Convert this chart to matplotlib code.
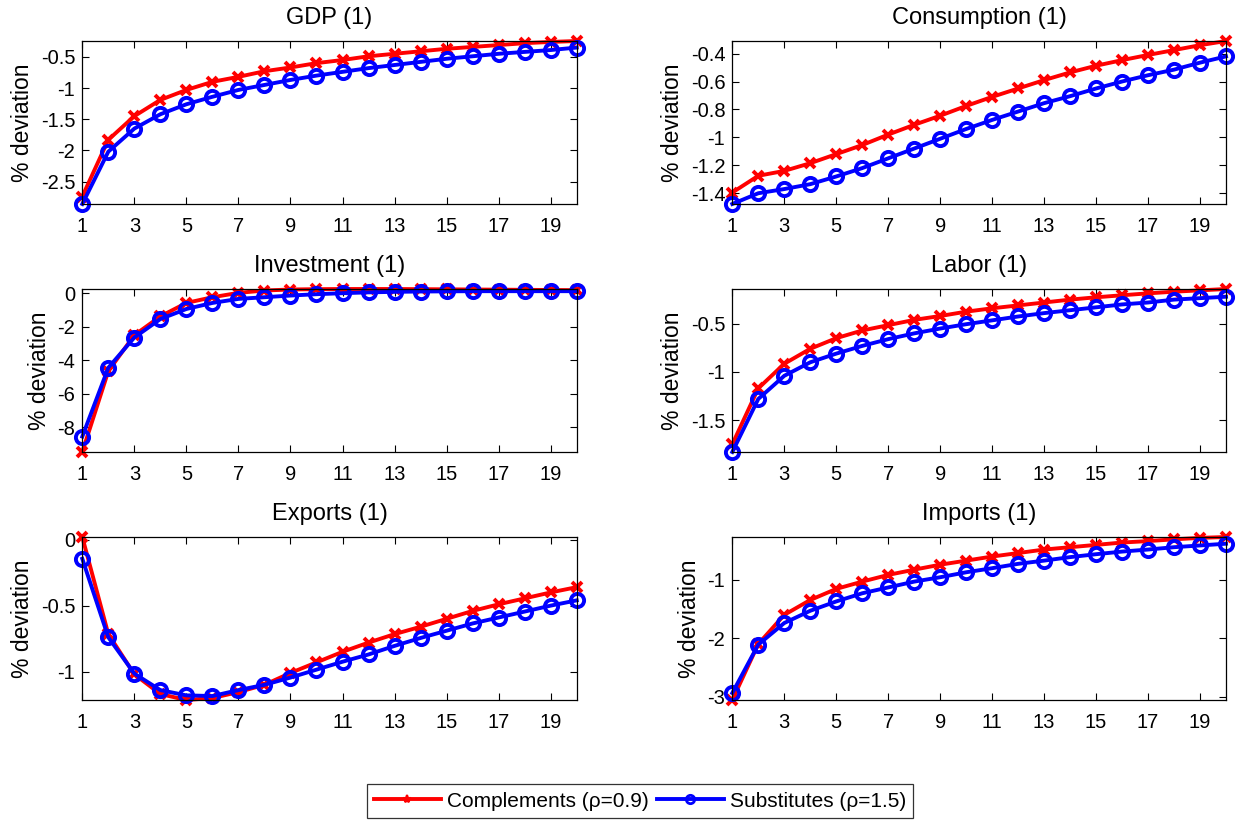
import matplotlib
matplotlib.use("Agg")
import matplotlib.pyplot as plt
import numpy as np
from matplotlib.ticker import FuncFormatter
from matplotlib.lines import Line2D

plt.rcParams['font.family'] = ['Liberation Sans', 'DejaVu Sans']

periods = list(range(1, 21))

titles = ["GDP (1)", "Consumption (1)", "Investment (1)", "Labor (1)", "Exports (1)", "Imports (1)"]

gdp_comp = [-2.74, -1.83, -1.45, -1.19, -1.03, -0.90, -0.82, -0.73, -0.67, -0.60,
            -0.55, -0.49, -0.45, -0.41, -0.37, -0.34, -0.31, -0.28, -0.26, -0.245]
gdp_subs = [-2.86, -2.02, -1.65, -1.42, -1.26, -1.14, -1.03, -0.95, -0.87, -0.80,
            -0.74, -0.68, -0.63, -0.58, -0.53, -0.49, -0.45, -0.42, -0.39, -0.35]

cons_comp = [-1.395, -1.275, -1.24, -1.185, -1.12, -1.055, -0.98, -0.91, -0.845, -0.775,
             -0.71, -0.65, -0.59, -0.535, -0.487, -0.447, -0.41, -0.375, -0.34, -0.31]
cons_subs = [-1.477, -1.40, -1.37, -1.335, -1.28, -1.22, -1.15, -1.08, -1.01, -0.94,
             -0.875, -0.815, -0.755, -0.705, -0.65, -0.60, -0.555, -0.515, -0.465, -0.42]

inv_comp = [-9.46, -4.64, -2.50, -1.38, -0.58, -0.24, 0.02, 0.16, 0.22, 0.24,
            0.25, 0.25, 0.25, 0.24, 0.23, 0.22, 0.21, 0.20, 0.19, 0.18]
inv_subs = [-8.54, -4.44, -2.64, -1.54, -0.94, -0.58, -0.34, -0.24, -0.14, -0.06,
            0.0, 0.05, 0.08, 0.10, 0.11, 0.12, 0.12, 0.12, 0.12, 0.12]

lab_comp = [-1.75, -1.17, -0.915, -0.76, -0.65, -0.57, -0.515, -0.46, -0.42, -0.375,
            -0.34, -0.31, -0.28, -0.25, -0.226, -0.205, -0.185, -0.168, -0.154, -0.14]
lab_subs = [-1.83, -1.28, -1.04, -0.90, -0.81, -0.73, -0.66, -0.60, -0.55, -0.505,
            -0.465, -0.425, -0.39, -0.36, -0.33, -0.30, -0.28, -0.25, -0.235, -0.22]

exp_comp = [0.02, -0.716, -1.02, -1.17, -1.215, -1.20, -1.155, -1.10, -1.01, -0.93,
            -0.85, -0.78, -0.716, -0.66, -0.60, -0.54, -0.49, -0.445, -0.40, -0.36]
exp_subs = [-0.145, -0.74, -1.015, -1.14, -1.18, -1.185, -1.14, -1.10, -1.045, -0.985,
            -0.925, -0.87, -0.805, -0.745, -0.69, -0.635, -0.59, -0.545, -0.50, -0.46]

imp_comp = [-3.06, -2.10, -1.60, -1.345, -1.155, -1.03, -0.915, -0.825, -0.74, -0.67,
            -0.60, -0.54, -0.48, -0.44, -0.40, -0.36, -0.335, -0.305, -0.28, -0.265]
imp_subs = [-2.94, -2.11, -1.74, -1.53, -1.37, -1.23, -1.13, -1.03, -0.955, -0.87,
            -0.80, -0.725, -0.67, -0.61, -0.56, -0.515, -0.48, -0.44, -0.41, -0.38]

comp_series = [gdp_comp, cons_comp, inv_comp, lab_comp, exp_comp, imp_comp]
subs_series = [gdp_subs, cons_subs, inv_subs, lab_subs, exp_subs, imp_subs]

yticks = [[-2.5, -2, -1.5, -1, -0.5],
          [-1.4, -1.2, -1, -0.8, -0.6, -0.4],
          [-8, -6, -4, -2, 0],
          [-1.5, -1, -0.5],
          [-1, -0.5, 0],
          [-3, -2, -1]]
xticks = [1, 3, 5, 7, 9, 11, 13, 15, 17, 19]

legend_labels = ["Complements (\u03c1=0.9)", "Substitutes (\u03c1=1.5)"]

W, H = 1239, 822
fig = plt.figure(figsize=(W / 100, H / 100), dpi=100)

col_left = [82.3, 732.3]
col_right = [576.7, 1226.0]
row_top = [41, 289, 537]
row_h = 163

fmt = FuncFormatter(lambda v, p: ('%g' % v) if abs(v) > 1e-12 else '0')

for i in range(6):
    r, c = divmod(i, 2)
    l = col_left[c] / W
    w = (col_right[c] - col_left[c]) / W
    b = 1 - (row_top[r] + row_h) / H
    h = row_h / H
    ax = fig.add_axes([l, b, w, h])
    lc, = ax.plot(periods, comp_series[i], color='#ff0000', lw=2.8, marker='x',
                  markersize=7.5, markeredgewidth=2.8)
    ls, = ax.plot(periods, subs_series[i], color='#0000ff', lw=2.8, marker='o',
                  markersize=9.5, markerfacecolor='none', markeredgewidth=2.8)
    allv = np.concatenate([comp_series[i], subs_series[i]])
    ax.set_ylim(allv.min(), allv.max())
    ax.set_xlim(1, 20)
    ax.set_xticks(xticks)
    ax.set_yticks(yticks[i])
    ax.yaxis.set_major_formatter(fmt)
    ax.tick_params(direction='in', length=5, width=0.8, top=True, right=True,
                   labelsize=14.5)
    ax.tick_params(axis='x', pad=9)
    ax.tick_params(axis='y', pad=5)
    for sp in ax.spines.values():
        sp.set_linewidth(0.9)
    ax.set_title(titles[i], fontsize=17, pad=12)
    ax.set_ylabel("% deviation", fontsize=16.5, labelpad=5)
    for line in (lc, ls):
        line.set_clip_on(False)

h_comp = Line2D([], [], color='#ff0000', lw=2.8, marker='*', markersize=6,
                markeredgewidth=1.5)
h_subs = Line2D([], [], color='#0000ff', lw=2.8, marker='o', markersize=6,
                markerfacecolor='none', markeredgewidth=2.0)
leg = fig.legend([h_comp, h_subs], legend_labels, loc='center', ncol=2,
                 bbox_to_anchor=(640 / W, 1 - 801 / H), fontsize=15,
                 frameon=True, fancybox=False, edgecolor='black',
                 handlelength=3.2, handletextpad=0.3, columnspacing=0.4,
                 borderpad=0.35)
leg.get_frame().set_linewidth(0.9)

fig.savefig("out.png", dpi=100)
